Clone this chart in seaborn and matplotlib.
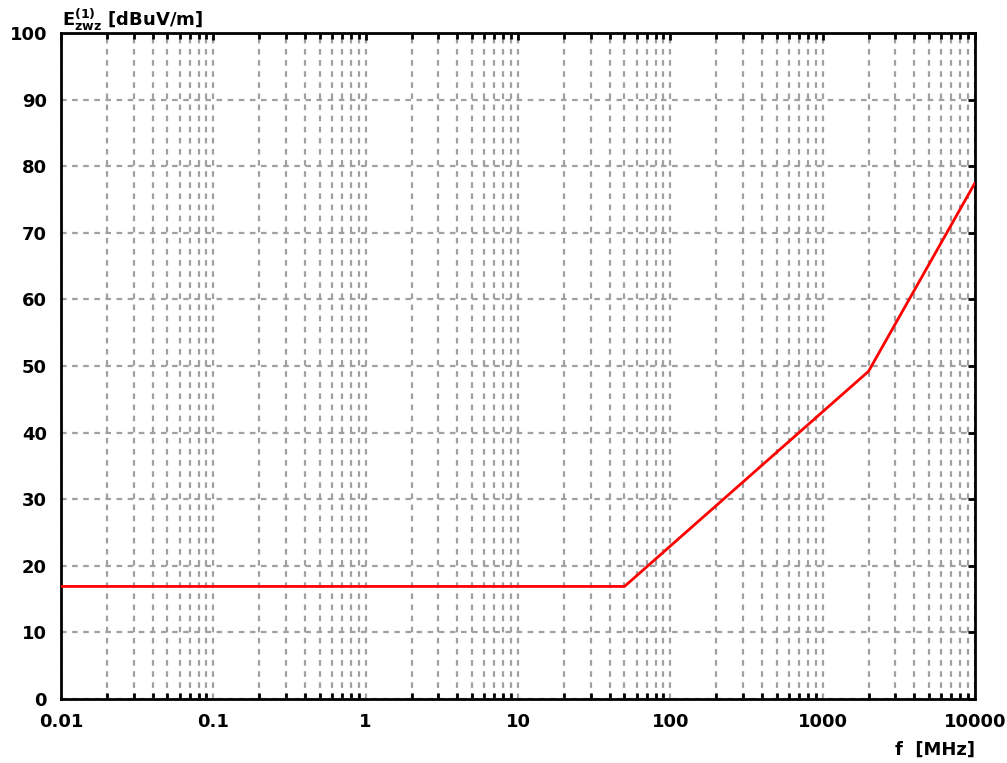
import matplotlib
matplotlib.use("Agg")
import matplotlib.pyplot as plt
import matplotlib.ticker as mticker
import seaborn as sns
import pandas as pd
import numpy as np

freq_mhz = [0.01, 50, 2000, 10000]
level_dbuv = [16.9, 16.9, 49.2, 77.5]
x_ticks = [0.01, 0.1, 1, 10, 100, 1000, 10000]
x_tick_labels = ["0.01", "0.1", "1", "10", "100", "1000", "10000"]
y_ticks = [0, 10, 20, 30, 40, 50, 60, 70, 80, 90, 100]

sns.set_theme(style="white")
plt.rcParams['font.family'] = ['DejaVu Sans']

fig = plt.figure(figsize=(10.07, 7.63), dpi=100)
ax = fig.add_axes([61/1007, 1-699/763, (975-61)/1007, (699-33)/763])

df = pd.DataFrame({"f": freq_mhz, "E": level_dbuv})
sns.lineplot(data=df, x="f", y="E", ax=ax, color="#ff0000", linewidth=2.0, zorder=5)

ax.set_xscale("log")
ax.set_xlim(0.01, 10000)
ax.set_ylim(0, 100)
ax.xaxis.set_major_locator(mticker.FixedLocator(x_ticks))
ax.xaxis.set_major_formatter(mticker.FixedFormatter(x_tick_labels))
ax.xaxis.set_minor_locator(mticker.LogLocator(base=10, subs=np.arange(2, 10), numticks=100))
ax.xaxis.set_minor_formatter(mticker.NullFormatter())
ax.set_yticks(y_ticks)

grid_kw = dict(color="#a0a0a0", linestyle=(0, (2.5, 2.5)), linewidth=1.6)
ax.grid(True, which="major", axis="both", **grid_kw)
ax.grid(True, which="minor", axis="x", **grid_kw)
ax.set_axisbelow(True)

for s in ax.spines.values():
    s.set_color("black")
    s.set_linewidth(2)

ax.tick_params(axis="both", which="major", direction="in", length=5, width=2,
               top=True, right=True, labelsize=13, colors="black", pad=10)
ax.tick_params(axis="x", which="minor", direction="in", length=4, width=2,
               top=True, bottom=True, colors="black")
for lab in ax.get_xticklabels() + ax.get_yticklabels():
    lab.set_fontweight("bold")

ax.set_xlabel("")
ax.set_ylabel("")
fig.text(62/1007, 1-20/763, r"$\mathbf{E^{(1)}_{zwz}}$ [dBuV/m]", fontsize=13,
         fontweight="bold", ha="left", va="center", color="black")
fig.text(975/1007, 1-750/763, "f  [MHz]", fontsize=13, fontweight="bold",
         ha="right", va="center", color="black")

fig.savefig("out.png", dpi=100, facecolor="white")
